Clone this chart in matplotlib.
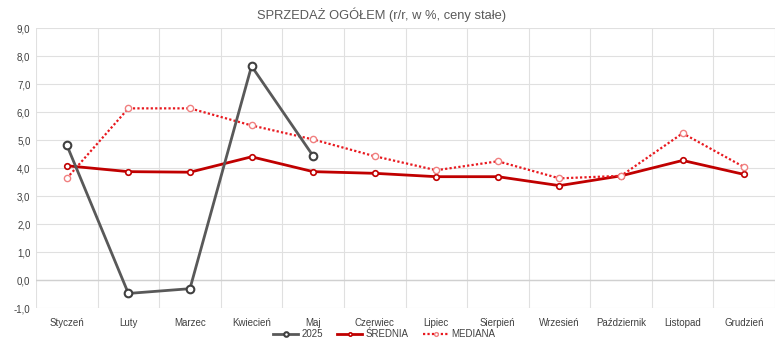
import matplotlib.pyplot as plt
import numpy as np

plt.rcParams['font.family'] = ['Liberation Sans', 'DejaVu Sans']

miesiace = ["Styczeń", "Luty", "Marzec", "Kwiecień", "Maj", "Czerwiec",
            "Lipiec", "Sierpień", "Wrzesień", "Październik", "Listopad", "Grudzień"]
rok_2025 = [4.82, -0.48, -0.31, 7.64, 4.43]
srednia = [4.08, 3.87, 3.85, 4.40, 3.87, 3.81, 3.69, 3.69, 3.37, 3.72, 4.27, 3.77]
mediana = [3.63, 6.13, 6.13, 5.52, 5.02, 4.42, 3.92, 4.24, 3.63, 3.72, 5.24, 4.03]

W, H = 776, 347
fig = plt.figure(figsize=(W / 100, H / 100), dpi=100)
ax = fig.add_axes([36 / W, 1 - 308 / H, (775 - 36) / W, 280 / H])

x = np.arange(len(miesiace))
ax.plot(x, srednia, color="#C00000", lw=2, marker="o", ms=4, mfc="white",
        mec="#C00000", mew=1.2, label="ŚREDNIA", zorder=3)
ax.plot(x, mediana, color="#E8191F", lw=1.6, ls=(0, (1, 1)), marker="o", ms=4.5,
        mfc="white", mec="#F08080", mew=1.0, label="MEDIANA", zorder=3)
ax.plot(x[:len(rok_2025)], rok_2025, color="#595959", lw=2, marker="o", ms=5.5,
        mfc="white", mec="#404040", mew=1.5, label="2025", zorder=4)

ax.set_xlim(-0.5, len(miesiace) - 0.5)
ax.set_ylim(-1, 9)
ax.set_yticks(np.arange(-1, 10, 1))
ax.set_yticklabels([f"{v:.1f}".replace(".", ",") for v in np.arange(-1, 10, 1)])
ax.set_xticks(x)
ax.set_xticklabels(miesiace)
ax.set_xticks(np.arange(-0.5, len(miesiace), 1), minor=True)

ax.grid(axis="y", color="#E0E0E0", lw=0.8)
ax.grid(axis="x", which="minor", color="#E0E0E0", lw=0.8)
ax.axhline(0, color="#D0D0D0", lw=1, zorder=1)
ax.set_axisbelow(True)
for s in ax.spines.values():
    s.set_visible(False)
ax.tick_params(axis="both", which="both", length=0, labelsize=7, labelcolor="#404040")
ax.tick_params(axis="x", pad=7)
ax.tick_params(axis="y", pad=4)

fig.text(382 / W, 1 - 15 / H, "SPRZEDAŻ OGÓŁEM (r/r, w %, ceny stałe)",
         ha="center", va="center", fontsize=9.3, color="#595959")

h, l = ax.get_legend_handles_labels()
order = [2, 0, 1]
fig.legend([h[i] for i in order], [l[i] for i in order], loc="center",
           bbox_to_anchor=(384 / W, 1 - 334 / H), ncol=3, frameon=False,
           fontsize=7, labelcolor="#404040", handlelength=2.6, columnspacing=1.5,
           handletextpad=0.3, markerscale=0.6)

fig.savefig("out.png", dpi=100)
plt.close(fig)
